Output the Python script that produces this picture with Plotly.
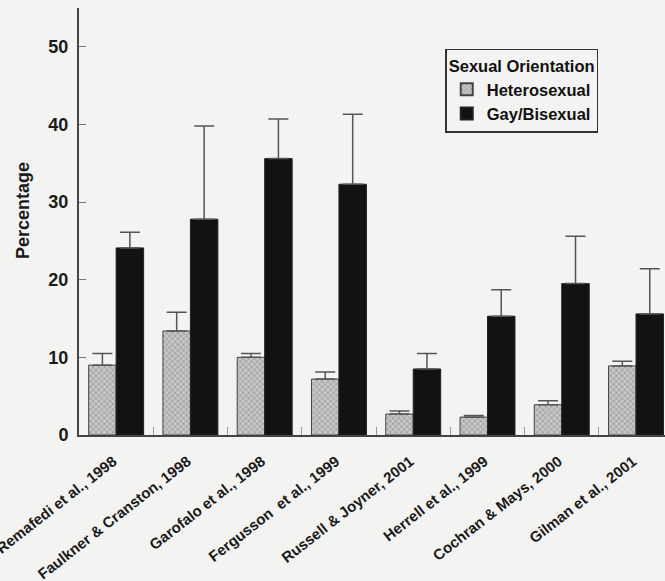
import plotly.graph_objects as go

studies = ["Remafedi et al., 1998", "Faulkner & Cranston, 1998", "Garofalo et al., 1998",
           "Fergusson  et al., 1999", "Russell & Joyner, 2001", "Herrell et al., 1999",
           "Cochran & Mays, 2000", "Gilman et al., 2001"]
hetero = [9.0, 13.4, 10.0, 7.2, 2.7, 2.3, 3.9, 8.9]
hetero_err_top = [10.5, 15.8, 10.5, 8.1, 3.1, 2.5, 4.4, 9.5]
gay = [24.1, 27.8, 35.6, 32.3, 8.5, 15.3, 19.5, 15.6]
gay_err_top = [26.1, 39.8, 40.7, 41.3, 10.5, 18.7, 25.6, 21.4]
y_ticks = [0, 10, 20, 30, 40, 50]

bg = "#f3f3f1"
fontfam = "Liberation Sans, Arial, sans-serif"

fig = go.Figure()
fig.add_trace(go.Bar(
    x=studies, y=hetero, name="Heterosexual",
    marker=dict(color="#c4c4c4", line=dict(color="#444", width=1),
                pattern=dict(shape="x", fgcolor="#6e6e6e", bgcolor="#c6c6c6", size=4, solidity=0.35)),
    error_y=dict(type="data", symmetric=False,
                 array=[t - v for t, v in zip(hetero_err_top, hetero)],
                 arrayminus=[0] * len(hetero), color="#555", thickness=1.5, width=10),
))
fig.add_trace(go.Bar(
    x=studies, y=gay, name="Gay/Bisexual",
    marker=dict(color="#121212", line=dict(color="#222", width=1)),
    error_y=dict(type="data", symmetric=False,
                 array=[t - v for t, v in zip(gay_err_top, gay)],
                 arrayminus=[0] * len(gay), color="#555", thickness=1.5, width=10),
))

fig.update_layout(
    width=665, height=581,
    margin=dict(l=79, r=0, t=8, b=146),
    paper_bgcolor=bg, plot_bgcolor=bg,
    barmode="group", bargap=0.26, bargroupgap=0,
    font=dict(family=fontfam, color="#1a1a1a"),
    showlegend=True,
    legend=dict(
        title=dict(text="Sexual Orientation", font=dict(family=fontfam, size=16.5, weight="bold", color="#111")),
        font=dict(family=fontfam, size=16.5, weight="bold", color="#111"),
        x=0.625, y=0.904, xanchor="left", yanchor="top",
        bgcolor=bg, bordercolor="#333", borderwidth=1.5,
        itemsizing="constant", tracegroupgap=0,
    ),
    xaxis=dict(
        type="category", range=[-0.5, 7.39], automargin=False,
        showline=True, linecolor="#444", linewidth=2,
        ticks="inside", tickson="boundaries", ticklen=8, tickcolor="#999", tickwidth=1,
        tickangle=-38, ticklabelshift=-3, ticklabelstandoff=10,
        tickfont=dict(family=fontfam, size=15, weight="bold", color="#1a1a1a"),
        showgrid=False, zeroline=False,
    ),
    yaxis=dict(
        range=[0, 55], automargin=False,
        tickvals=y_ticks, ticktext=[str(v) for v in y_ticks],
        showline=True, linecolor="#444", linewidth=2,
        ticks="inside", ticklen=7, tickcolor="#777", tickwidth=1,
        ticklabelstandoff=5,
        tickfont=dict(family=fontfam, size=18, weight="bold", color="#1a1a1a"),
        showgrid=False, zeroline=False,
    ),
    annotations=[dict(
        text="Percentage", textangle=-90, xref="paper", yref="paper",
        x=(23 - 79) / 586, y=(435 - 210) / 427, xanchor="center", yanchor="middle",
        showarrow=False, font=dict(family=fontfam, size=18, weight="bold", color="#1a1a1a"),
    )],
)

fig.write_html("out.html", config={"displayModeBar": False},
               post_script="document.body.style.margin='0';document.body.style.background='#f3f3f1';")
